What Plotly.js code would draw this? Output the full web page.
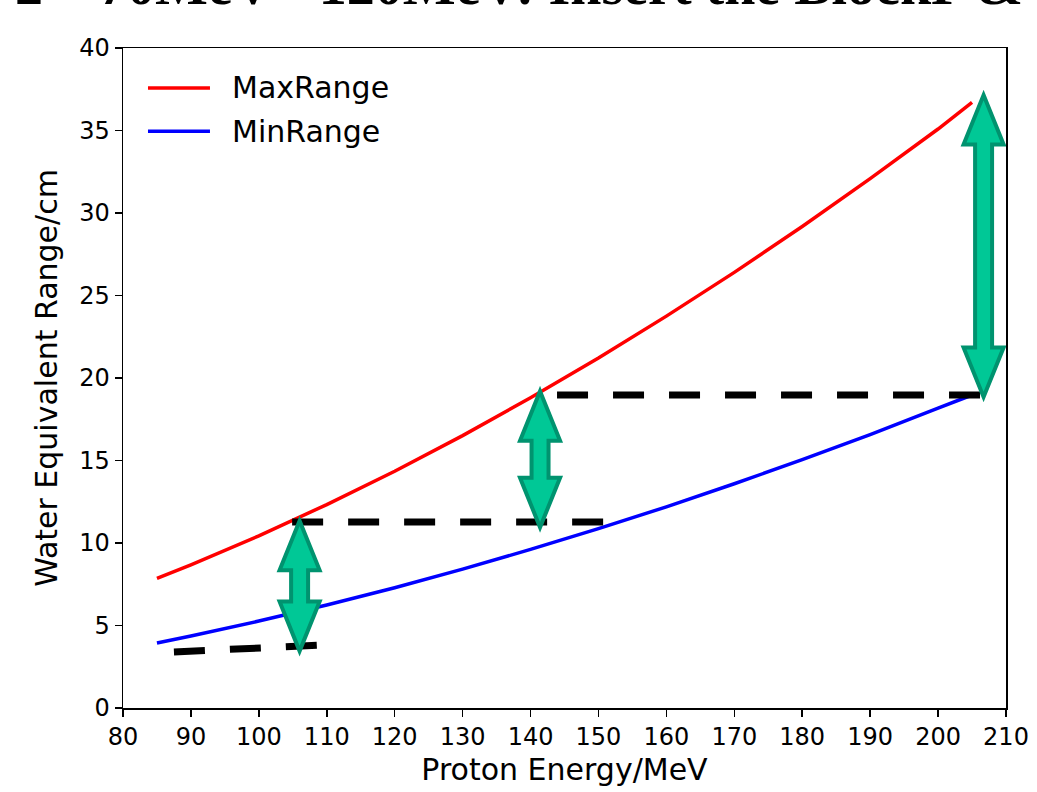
<!DOCTYPE html>
<html>
<head>
<meta charset="utf-8">
<script src="https://cdn.plot.ly/plotly-3.0.1.min.js"></script>
<style>
  html, body { margin: 0; padding: 0; background: #fff; }
  #chart { width: 1037px; height: 792px; }
</style>
</head>
<body>
<div id="chart"></div>
<script>
// Proton energy (MeV) and water-equivalent range (cm)
const energy   = [85, 90, 100, 110, 120, 130, 140, 150, 160, 170, 180, 190, 200, 205];
const maxRange = [7.85, 8.68, 10.43, 12.33, 14.35, 16.51, 18.80, 21.21, 23.75, 26.40, 29.18, 32.08, 35.09, 36.7];
const minRange = [3.94, 4.36, 5.27, 6.24, 7.29, 8.42, 9.61, 10.87, 12.19, 13.59, 15.05, 16.57, 18.17, 18.97];
const seriesNames = ['MaxRange', 'MinRange'];

// Block step levels (dashed guides)
const stepE = [[87.5, 108.7], [104.9, 151.0], [143.9, 207.0]];
const stepR = [[3.40, 3.80], [11.27, 11.27], [18.97, 18.97]];

// Double arrows: energy, lower and upper range
const arrowE    = [106.0, 141.4, 206.7];
const arrowLow  = [3.45, 10.95, 18.85];
const arrowHigh = [11.35, 19.2, 37.15];

const titleText = '2 \u2013 70MeV - 120MeV: Insert the BlockP &';
const xTitle = 'Proton Energy/MeV';
const yTitle = 'Water Equivalent Range/cm';
const xTicks = [80, 90, 100, 110, 120, 130, 140, 150, 160, 170, 180, 190, 200, 210];
const yTicks = [0, 5, 10, 15, 20, 25, 30, 35, 40];

const lineColors = ['#ff0000', '#0000ff'];
const font = 'DejaVu Sans, Arial, sans-serif';

const traces = [
  { x: energy, y: maxRange, name: seriesNames[0], mode: 'lines',
    line: { color: lineColors[0], width: 3.5 }, showlegend: false },
  { x: energy, y: minRange, name: seriesNames[1], mode: 'lines',
    line: { color: lineColors[1], width: 3.5 }, showlegend: false }
];
stepE.forEach((xs, i) => {
  traces.push({ x: xs, y: stepR[i], mode: 'lines', showlegend: false, hoverinfo: 'skip',
    line: { color: '#000', width: 7, dash: '31px,25px' } });
});

// Arrow outline in data units
const headHalf = 2.95, shaftHalf = 1.25, headLen = 3.0;
function arrowPath(xc, y0, y1) {
  const p = [
    [xc, y1], [xc + headHalf, y1 - headLen], [xc + shaftHalf, y1 - headLen],
    [xc + shaftHalf, y0 + headLen], [xc + headHalf, y0 + headLen], [xc, y0],
    [xc - headHalf, y0 + headLen], [xc - shaftHalf, y0 + headLen],
    [xc - shaftHalf, y1 - headLen], [xc - headHalf, y1 - headLen]
  ];
  return 'M' + p.map(q => q[0] + ',' + q[1]).join(' L') + ' Z';
}
const shapes = arrowE.map((e, i) => ({
  type: 'path', xref: 'x', yref: 'y', layer: 'above',
  path: arrowPath(e, arrowLow[i], arrowHigh[i]),
  fillcolor: '#00c896', line: { color: '#00936f', width: 4 }
}));

// Legend drawn as line samples plus labels
const legendY = [0.9395, 0.874];
const annotations = [];
seriesNames.forEach((n, i) => {
  shapes.push({ type: 'line', xref: 'paper', yref: 'paper',
    x0: 0.0283, x1: 0.0985, y0: legendY[i], y1: legendY[i],
    line: { color: lineColors[i], width: 3.5 } });
  annotations.push({ xref: 'paper', yref: 'paper', x: 0.121, y: legendY[i],
    xanchor: 'left', yanchor: 'middle', showarrow: false, text: n,
    font: { family: font, size: 30, color: '#000' } });
});
annotations.push({ xref: 'paper', yref: 'paper', x: 1.0215, y: 1.045,
  xanchor: 'right', yanchor: 'bottom', showarrow: false, text: '<b>' + titleText + '</b>',
  font: { family: 'Liberation Serif, Times New Roman, serif', size: 56, color: '#000' } });

const axisCommon = {
  showgrid: false, zeroline: false, showline: true, mirror: true,
  linecolor: '#000', linewidth: 1.5, ticks: 'outside', ticklen: 7, tickwidth: 1.5,
  tickcolor: '#000', tickfont: { family: font, size: 24, color: '#000' }
};

const layout = {
  width: 1037, height: 792,
  margin: { l: 123, r: 31, t: 48, b: 84 },
  paper_bgcolor: '#fff', plot_bgcolor: '#fff',
  xaxis: Object.assign({}, axisCommon, {
    range: [80, 210], tickvals: xTicks, ticktext: xTicks.map(String),
    title: { text: xTitle, font: { family: font, size: 30, color: '#000' }, standoff: 8 }
  }),
  yaxis: Object.assign({}, axisCommon, {
    range: [0, 40], tickvals: yTicks, ticktext: yTicks.map(String),
    title: { text: yTitle, font: { family: font, size: 30, color: '#000' }, standoff: 12 }
  }),
  shapes: shapes,
  annotations: annotations
};

Plotly.newPlot('chart', traces, layout, { staticPlot: true, displayModeBar: false });
</script>
</body>
</html>
